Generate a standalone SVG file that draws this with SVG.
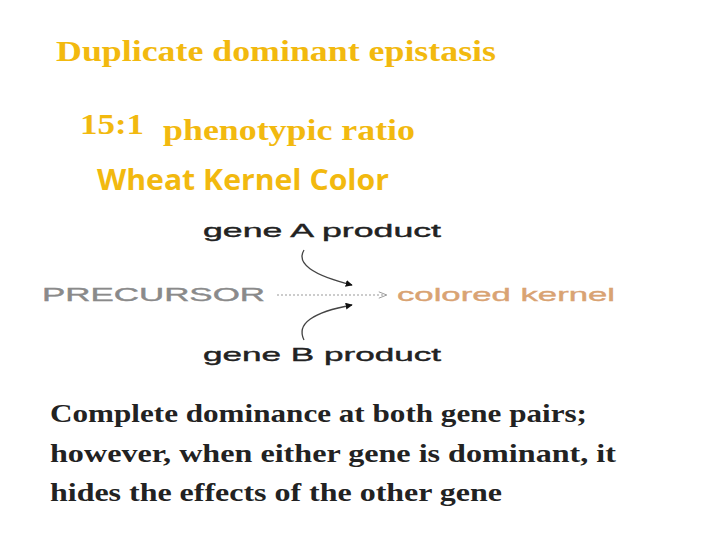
<svg xmlns="http://www.w3.org/2000/svg" width="720" height="540" viewBox="0 0 720 540">
<defs>
<style>
.gold{fill:#F2B90F}
.ser{font-family:"Liberation Serif","Times New Roman",serif;font-weight:bold}
.sans{font-family:"Liberation Sans",Arial,sans-serif}
.cal{font-family:"Open Sans","Liberation Sans",sans-serif;font-weight:bold}
.lbl{font-family:"Liberation Sans",Arial,sans-serif;font-size:19px;fill:#222;stroke:#222;stroke-width:0.4}
.body{font-family:"Liberation Serif","Times New Roman",serif;font-weight:bold;font-size:26px;fill:#222}
.conn{fill:none;stroke:#444;stroke-width:1.3}
</style>
<marker id="tri" viewBox="0 0 10 10" refX="9" refY="5" markerWidth="7" markerHeight="7" orient="auto" markerUnits="userSpaceOnUse">
<path d="M0,0 L10,5 L0,10 z" fill="#111"/>
</marker>
<marker id="open" viewBox="0 0 10 10" refX="9" refY="5" markerWidth="10" markerHeight="8" orient="auto" markerUnits="userSpaceOnUse">
<path d="M0,1 L10,5 L0,9" fill="none" stroke="#999" stroke-width="1.2"/>
</marker>
</defs>
<rect width="720" height="540" fill="#fff"/>
<g id="title">
<text class="ser gold" x="56" y="61" font-size="30" textLength="440" lengthAdjust="spacingAndGlyphs">Duplicate dominant epistasis</text>
<text class="ser gold" x="80" y="134" font-size="29" textLength="64" lengthAdjust="spacingAndGlyphs">15:1</text>
<text class="ser gold" x="163" y="140" font-size="30" textLength="252" lengthAdjust="spacingAndGlyphs">phenotypic ratio</text>
<text class="cal gold" x="97" y="190" font-size="28" textLength="292" lengthAdjust="spacingAndGlyphs">Wheat Kernel Color</text>
</g>
<g id="geneA">
<text class="lbl" x="203" y="237" textLength="238" lengthAdjust="spacingAndGlyphs">gene A product</text>
</g>
<g id="precursor">
<text class="sans" x="42" y="301" font-size="19" fill="#8a8a8a" stroke="#8a8a8a" stroke-width="0.4" textLength="223" lengthAdjust="spacingAndGlyphs">PRECURSOR</text>
</g>
<g id="kernel">
<text class="sans" x="397" y="301" font-size="19" fill="#D9A373" stroke="#D9A373" stroke-width="0.4" textLength="218" lengthAdjust="spacingAndGlyphs">colored kernel</text>
</g>
<g id="geneB">
<text class="lbl" x="203" y="361" textLength="238" lengthAdjust="spacingAndGlyphs">gene B product</text>
</g>
<g id="connectors">
<path class="conn" d="M304,250 Q292,270 352,285" marker-end="url(#tri)"/>
<path class="conn" d="M304,340 Q292,316 352,305" marker-end="url(#tri)"/>
<path d="M277,295 L386,295" fill="none" stroke="#999" stroke-width="1.2" stroke-dasharray="2,2" marker-end="url(#open)"/>
</g>
<g id="description">
<text class="body" x="50" y="422" textLength="537" lengthAdjust="spacingAndGlyphs">Complete dominance at both gene pairs;</text>
<text class="body" x="50" y="462" textLength="566" lengthAdjust="spacingAndGlyphs">however, when either gene is dominant, it</text>
<text class="body" x="50" y="501" textLength="452" lengthAdjust="spacingAndGlyphs">hides the effects of the other gene</text>
</g>
</svg>
